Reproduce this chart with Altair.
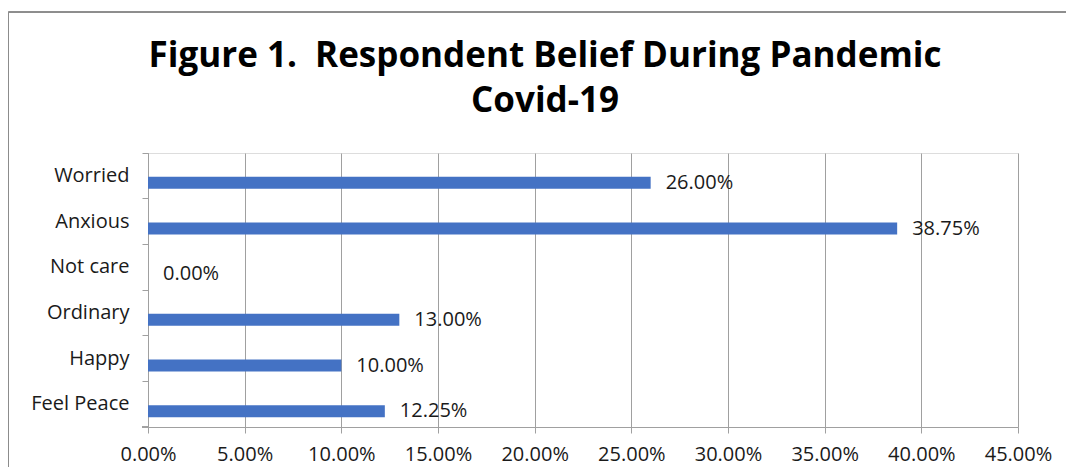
import altair as alt
import pandas as pd

categories = ["Worried", "Anxious", "Not care", "Ordinary", "Happy", "Feel Peace"]
values = [0.26, 0.3875, 0.0, 0.13, 0.10, 0.1225]
x_ticks = [0.0, 0.05, 0.10, 0.15, 0.20, 0.25, 0.30, 0.35, 0.40, 0.45]

df = pd.DataFrame({"category": categories, "value": values})

W, H = 870, 274
FONT = "Open Sans"
GRID = "#a0a0a0"
FS = 20
PAD_R, PAD_B = 48, 40

x_enc = alt.X("value:Q", scale=alt.Scale(domain=[0, 0.45], nice=False),
              axis=alt.Axis(values=x_ticks, format=".2%", title=None, grid=True,
                            gridColor=GRID, domainColor=GRID, tickColor=GRID,
                            tickSize=6, labelFontSize=FS, labelFont=FONT,
                            labelColor="#1a1a1a", labelPadding=11,
                            labelFlush=False, labelOverlap=False))
y_enc = alt.Y("category:N", sort=categories,
              scale=alt.Scale(paddingInner=0, paddingOuter=0),
              axis=alt.Axis(title=None, grid=False, bandPosition=0,
                            domainColor=GRID, tickColor=GRID, tickSize=6,
                            labelFontSize=FS, labelFont=FONT, labelColor="#1a1a1a",
                            labelPadding=13))

base = alt.Chart(df)
bars = base.mark_bar(size=12, yOffset=7, color="#4472C4").encode(x=x_enc, y=y_enc)
labels = base.mark_text(align="left", baseline="middle", dx=15, dy=7,
                        fontSize=FS, font=FONT, color="#1a1a1a").encode(
    x="value:Q", y=alt.Y("category:N", sort=categories),
    text=alt.Text("value:Q", format=".2%"))

# bottom tick of the category axis
bottom_tick = alt.Chart(df).mark_rule(color=GRID).encode(
    x=alt.value(-6), x2=alt.value(0), y=alt.value(H))
# outer frame (left and top edges)
frame_top = alt.Chart(df).mark_rule(color="#8c8c8c", strokeWidth=1).encode(
    x=alt.value(-139.5), x2=alt.value(W + PAD_R), y=alt.value(-141))
frame_left = alt.Chart(df).mark_rule(color="#8c8c8c", strokeWidth=1).encode(
    x=alt.value(-139.5), y=alt.value(-141), y2=alt.value(H + PAD_B))

chart = alt.layer(bars, labels, bottom_tick, frame_top, frame_left).properties(
    width=W, height=H,
    title=alt.Title(["Figure 1.\u00a0 Respondent Belief During Pandemic", "Covid-19"],
                    fontSize=35, fontWeight="bold", font=FONT, color="#000000",
                    lineHeight=45, anchor="middle", dx=-38, dy=107, offset=0),
    autosize=alt.AutoSizeParams(type="none"),
    padding={"left": 140, "top": 145, "right": PAD_R, "bottom": PAD_B},
).configure_view(stroke=None).configure(background="white")

chart.save("out.html", embed_options={"renderer": "svg", "actions": False})
